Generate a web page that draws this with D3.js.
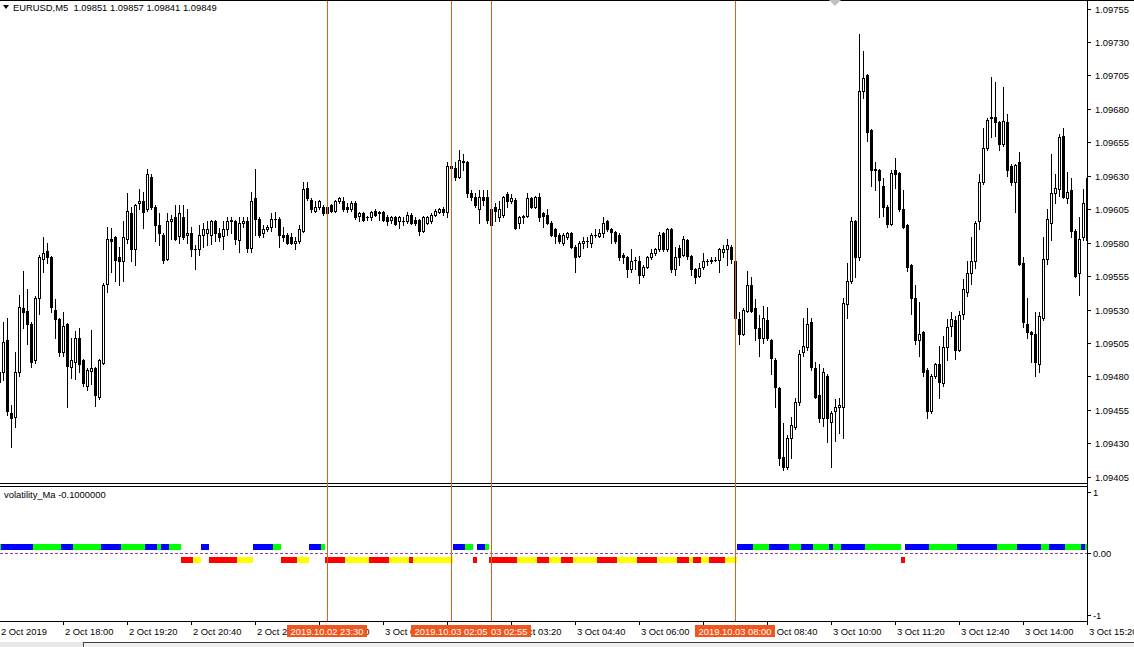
<!DOCTYPE html>
<html><head><meta charset="utf-8">
<script src="https://cdn.jsdelivr.net/npm/d3@7"></script>
<style>
html,body{margin:0;padding:0;background:#fff;overflow:hidden}
svg{display:block}
text{font-family:"Liberation Sans",Arial,sans-serif;font-size:9.4px;fill:#000}
</style></head>
<body><svg id="c" width="1134" height="647"></svg>
<script>
// ---------------- data ----------------
const symbolTitle = "EURUSD,M5";
const lastBarOHLC = ["1.09851", "1.09857", "1.09841", "1.09849"];
const indicatorTitle = "volatility_Ma -0.1000000";
// M5 bars, first bar = 2 Oct 2019 16:40
const opens = [1.09483,1.09483,1.09507,1.09453,1.09450,1.09483,1.09531,1.09529,1.09519,1.09492,
1.09539,1.09568,1.09574,1.09569,1.09530,1.09523,1.09498,1.09519,1.09487,1.09491,
1.09509,1.09492,1.09473,1.09484,1.09486,1.09465,1.09490,1.09549,1.09583,1.09584,
1.09569,1.09566,1.09583,1.09602,1.09575,1.09610,1.09611,1.09605,1.09629,1.09607,
1.09593,1.09586,1.09568,1.09596,1.09599,1.09585,1.09599,1.09586,1.09587,1.09575,
1.09575,1.09586,1.09587,1.09586,1.09596,1.09587,1.09585,1.09590,1.09596,1.09596,
1.09582,1.09595,1.09596,1.09576,1.09613,1.09598,1.09587,1.09590,1.09592,1.09598,
1.09598,1.09586,1.09586,1.09584,1.09580,1.09581,1.09589,1.09621,1.09612,1.09604,
1.09607,1.09607,1.09602,1.09608,1.09604,1.09611,1.09611,1.09607,1.09605,1.09610,
1.09600,1.09602,1.09599,1.09599,1.09604,1.09602,1.09603,1.09599,1.09597,1.09599,
1.09596,1.09596,1.09596,1.09601,1.09597,1.09597,1.09589,1.09595,1.09596,1.09601,
1.09603,1.09605,1.09603,1.09636,1.09636,1.09629,1.09641,1.09640,1.09617,1.09614,
1.09605,1.09614,1.09614,1.09593,1.09607,1.09599,1.09601,1.09616,1.09611,1.09612,
1.09595,1.09599,1.09600,1.09613,1.09607,1.09614,1.09602,1.09601,1.09595,1.09590,
1.09586,1.09580,1.09584,1.09587,1.09577,1.09570,1.09580,1.09581,1.09580,1.09586,
1.09585,1.09587,1.09596,1.09590,1.09588,1.09586,1.09571,1.09569,1.09560,1.09567,
1.09566,1.09556,1.09562,1.09569,1.09572,1.09575,1.09587,1.09575,1.09590,1.09560,
1.09576,1.09571,1.09582,1.09570,1.09560,1.09555,1.09562,1.09566,1.09566,1.09567,
1.09567,1.09573,1.09575,1.09577,1.09566,1.09523,1.09512,1.09529,1.09548,1.09531,
1.09516,1.09509,1.09522,1.09507,1.09492,1.09471,1.09420,1.09412,1.09434,1.09442,
1.09461,1.09498,1.09502,1.09521,1.09486,1.09466,1.09449,1.09480,1.09446,1.09454,
1.09457,1.09457,1.09534,1.09551,1.09596,1.09569,1.09693,1.09705,1.09664,1.09635,
1.09634,1.09622,1.09607,1.09594,1.09634,1.09632,1.09605,1.09593,1.09563,1.09539,
1.09507,1.09513,1.09485,1.09454,1.09480,1.09489,1.09475,1.09502,1.09518,1.09522,
1.09500,1.09527,1.09543,1.09557,1.09566,1.09596,1.09625,1.09651,1.09673,1.09674,
1.09670,1.09654,1.09670,1.09637,1.09625,1.09640,1.09565,1.09519,1.09513,1.09512,
1.09489,1.09524,1.09568,1.09595,1.09617,1.09620,1.09660,1.09613,1.09619,1.09589,
1.09557,1.09584,1.09628];
const highs = [1.09486,1.09521,1.09524,1.09459,1.09498,1.09541,1.09559,1.09545,1.09521,1.09540,
1.09571,1.09584,1.09580,1.09570,1.09538,1.09524,1.09528,1.09520,1.09509,1.09514,
1.09516,1.09493,1.09486,1.09515,1.09487,1.09493,1.09550,1.09592,1.09591,1.09585,
1.09577,1.09596,1.09617,1.09607,1.09609,1.09620,1.09618,1.09635,1.09631,1.09608,
1.09602,1.09587,1.09602,1.09601,1.09608,1.09608,1.09608,1.09605,1.09592,1.09578,
1.09593,1.09595,1.09596,1.09597,1.09597,1.09591,1.09596,1.09599,1.09599,1.09597,
1.09599,1.09599,1.09599,1.09618,1.09635,1.09599,1.09593,1.09593,1.09602,1.09603,
1.09599,1.09592,1.09587,1.09587,1.09584,1.09593,1.09625,1.09625,1.09613,1.09611,
1.09612,1.09608,1.09608,1.09609,1.09612,1.09614,1.09614,1.09610,1.09611,1.09611,
1.09603,1.09603,1.09600,1.09604,1.09605,1.09604,1.09604,1.09601,1.09600,1.09600,
1.09600,1.09599,1.09603,1.09602,1.09599,1.09598,1.09600,1.09600,1.09602,1.09605,
1.09606,1.09607,1.09640,1.09649,1.09640,1.09649,1.09646,1.09641,1.09619,1.09617,
1.09619,1.09619,1.09619,1.09607,1.09610,1.09611,1.09615,1.09618,1.09616,1.09613,
1.09600,1.09601,1.09617,1.09614,1.09615,1.09617,1.09603,1.09605,1.09596,1.09591,
1.09587,1.09587,1.09588,1.09588,1.09578,1.09581,1.09584,1.09584,1.09587,1.09590,
1.09590,1.09599,1.09597,1.09591,1.09589,1.09587,1.09572,1.09570,1.09575,1.09569,
1.09570,1.09563,1.09570,1.09575,1.09576,1.09588,1.09588,1.09591,1.09591,1.09577,
1.09578,1.09585,1.09583,1.09571,1.09561,1.09565,1.09572,1.09568,1.09569,1.09569,
1.09576,1.09578,1.09583,1.09578,1.09567,1.09528,1.09531,1.09559,1.09554,1.09538,
1.09526,1.09533,1.09532,1.09508,1.09494,1.09472,1.09445,1.09436,1.09450,1.09464,
1.09500,1.09524,1.09531,1.09524,1.09491,1.09489,1.09486,1.09482,1.09454,1.09463,
1.09464,1.09539,1.09565,1.09599,1.09597,1.09736,1.09723,1.09706,1.09665,1.09640,
1.09635,1.09628,1.09608,1.09634,1.09643,1.09633,1.09619,1.09594,1.09564,1.09548,
1.09536,1.09514,1.09486,1.09482,1.09490,1.09503,1.09510,1.09523,1.09528,1.09525,
1.09529,1.09553,1.09566,1.09584,1.09596,1.09631,1.09666,1.09673,1.09704,1.09700,
1.09671,1.09696,1.09676,1.09639,1.09639,1.09648,1.09569,1.09539,1.09514,1.09528,
1.09528,1.09584,1.09605,1.09646,1.09631,1.09661,1.09666,1.09633,1.09628,1.09590,
1.09599,1.09620,1.09630];
const lows = [1.09474,1.09477,1.09451,1.09427,1.09442,1.09480,1.09516,1.09504,1.09487,1.09490,
1.09527,1.09558,1.09565,1.09528,1.09509,1.09495,1.09495,1.09457,1.09479,1.09478,
1.09483,1.09473,1.09470,1.09474,1.09458,1.09463,1.09489,1.09543,1.09558,1.09551,
1.09548,1.09551,1.09580,1.09566,1.09563,1.09605,1.09591,1.09604,1.09605,1.09581,
1.09578,1.09565,1.09567,1.09583,1.09582,1.09580,1.09583,1.09580,1.09570,1.09560,
1.09571,1.09577,1.09578,1.09579,1.09581,1.09581,1.09575,1.09586,1.09587,1.09579,
1.09573,1.09592,1.09573,1.09573,1.09586,1.09584,1.09584,1.09589,1.09589,1.09592,
1.09577,1.09581,1.09579,1.09579,1.09575,1.09580,1.09588,1.09612,1.09603,1.09603,
1.09605,1.09601,1.09601,1.09603,1.09603,1.09610,1.09604,1.09603,1.09604,1.09598,
1.09596,1.09596,1.09597,1.09597,1.09600,1.09597,1.09596,1.09593,1.09595,1.09593,
1.09591,1.09593,1.09595,1.09594,1.09593,1.09586,1.09588,1.09594,1.09595,1.09600,
1.09602,1.09601,1.09599,1.09633,1.09627,1.09628,1.09634,1.09614,1.09612,1.09607,
1.09595,1.09608,1.09595,1.09590,1.09596,1.09596,1.09599,1.09607,1.09610,1.09590,
1.09591,1.09595,1.09599,1.09606,1.09606,1.09596,1.09592,1.09594,1.09585,1.09580,
1.09580,1.09578,1.09583,1.09576,1.09558,1.09569,1.09576,1.09577,1.09577,1.09584,
1.09584,1.09584,1.09589,1.09580,1.09580,1.09567,1.09565,1.09554,1.09558,1.09560,
1.09550,1.09554,1.09561,1.09568,1.09571,1.09574,1.09574,1.09574,1.09558,1.09556,
1.09563,1.09570,1.09568,1.09556,1.09550,1.09554,1.09560,1.09563,1.09565,1.09566,
1.09558,1.09569,1.09563,1.09565,1.09519,1.09504,1.09511,1.09528,1.09528,1.09507,
1.09495,1.09505,1.09507,1.09482,1.09457,1.09414,1.09410,1.09411,1.09419,1.09441,
1.09459,1.09495,1.09500,1.09485,1.09464,1.09446,1.09443,1.09431,1.09412,1.09432,
1.09438,1.09434,1.09524,1.09550,1.09554,1.09567,1.09688,1.09656,1.09622,1.09619,
1.09599,1.09600,1.09592,1.09593,1.09621,1.09604,1.09591,1.09559,1.09527,1.09504,
1.09495,1.09480,1.09449,1.09453,1.09479,1.09464,1.09473,1.09492,1.09510,1.09493,
1.09499,1.09523,1.09540,1.09549,1.09561,1.09590,1.09624,1.09649,1.09659,1.09660,
1.09649,1.09652,1.09630,1.09623,1.09603,1.09563,1.09517,1.09509,1.09491,1.09480,
1.09483,1.09522,1.09564,1.09582,1.09610,1.09615,1.09613,1.09610,1.09584,1.09554,
1.09541,1.09582,1.09578];
const closes = [1.09476,1.09506,1.09454,1.09449,1.09483,1.09532,1.09528,1.09519,1.09491,1.09539,
1.09569,1.09572,1.09569,1.09532,1.09523,1.09498,1.09518,1.09488,1.09492,1.09509,
1.09489,1.09475,1.09485,1.09486,1.09466,1.09492,1.09548,1.09583,1.09581,1.09567,
1.09566,1.09584,1.09604,1.09575,1.09608,1.09611,1.09603,1.09631,1.09607,1.09593,
1.09587,1.09567,1.09596,1.09598,1.09583,1.09602,1.09584,1.09587,1.09575,1.09575,
1.09586,1.09590,1.09590,1.09596,1.09587,1.09584,1.09590,1.09596,1.09597,1.09583,
1.09595,1.09596,1.09576,1.09611,1.09598,1.09586,1.09590,1.09592,1.09598,1.09598,
1.09586,1.09584,1.09580,1.09580,1.09581,1.09590,1.09620,1.09613,1.09605,1.09607,
1.09611,1.09602,1.09607,1.09604,1.09611,1.09613,1.09605,1.09605,1.09610,1.09599,
1.09602,1.09597,1.09599,1.09603,1.09601,1.09603,1.09597,1.09596,1.09599,1.09594,
1.09599,1.09596,1.09601,1.09595,1.09595,1.09589,1.09599,1.09599,1.09601,1.09604,
1.09605,1.09603,1.09637,1.09637,1.09629,1.09642,1.09640,1.09617,1.09614,1.09608,
1.09614,1.09612,1.09597,1.09605,1.09604,1.09605,1.09614,1.09611,1.09613,1.09591,
1.09599,1.09600,1.09613,1.09607,1.09614,1.09599,1.09600,1.09595,1.09586,1.09585,
1.09581,1.09586,1.09587,1.09577,1.09569,1.09580,1.09581,1.09581,1.09586,1.09586,
1.09587,1.09595,1.09590,1.09588,1.09581,1.09569,1.09569,1.09560,1.09566,1.09567,
1.09556,1.09562,1.09569,1.09572,1.09575,1.09586,1.09575,1.09590,1.09560,1.09569,
1.09569,1.09583,1.09570,1.09560,1.09554,1.09561,1.09566,1.09566,1.09567,1.09567,
1.09575,1.09575,1.09578,1.09568,1.09524,1.09512,1.09530,1.09548,1.09529,1.09516,
1.09509,1.09524,1.09509,1.09494,1.09472,1.09419,1.09412,1.09434,1.09444,1.09461,
1.09497,1.09503,1.09519,1.09487,1.09465,1.09449,1.09483,1.09449,1.09453,1.09457,
1.09459,1.09535,1.09551,1.09596,1.09569,1.09693,1.09703,1.09663,1.09634,1.09634,
1.09627,1.09607,1.09594,1.09632,1.09631,1.09605,1.09592,1.09562,1.09539,1.09507,
1.09512,1.09483,1.09454,1.09480,1.09489,1.09476,1.09502,1.09517,1.09523,1.09500,
1.09526,1.09545,1.09557,1.09566,1.09595,1.09625,1.09651,1.09672,1.09674,1.09670,
1.09654,1.09671,1.09634,1.09625,1.09638,1.09564,1.09521,1.09513,1.09512,1.09491,
1.09525,1.09568,1.09598,1.09617,1.09621,1.09659,1.09614,1.09618,1.09589,1.09555,
1.09583,1.09610,1.09582];

const priceTicks = [1.09405,1.09430,1.09455,1.09480,1.09505,1.09530,1.09555,1.09580,
                    1.09605,1.09630,1.09655,1.09680,1.09705,1.09730,1.09755];
const timeTickBars = [0,16,32,48,64,80,96,112,128,144,160,176,192,208,224,240,256,272];
const timeTickLabels = ["2 Oct 2019","2 Oct 18:00","2 Oct 19:20","2 Oct 20:40","2 Oct 22:00",
  "2 Oct 23:20","3 Oct 00:40","3 Oct 02:00","3 Oct 03:20","3 Oct 04:40","3 Oct 06:00",
  "3 Oct 07:20","3 Oct 08:40","3 Oct 10:00","3 Oct 11:20","3 Oct 12:40","3 Oct 14:00","3 Oct 15:20"];
const markerBars = [82, 123, 113, 184];
const markerLabels = ["2019.10.02 23:30","2019.10.03 02:55","2019.10.03 02:05","2019.10.03 08:00"];
const indTicks = [1, 0, -1];
const indTickLabels = ["1", "0.00", "-1"];
// volatility_Ma runs: [firstBar, lastBar, value, state]
const volRuns = [
[0,0,0.1,"up2"],[1,8,0.1,"up1"],[9,15,0.1,"up2"],[16,18,0.1,"up1"],[19,25,0.1,"up2"],
[26,30,0.1,"up1"],[31,36,0.1,"up2"],[37,39,0.1,"up1"],[40,40,0.1,"up2"],[41,42,0.1,"up1"],
[43,45,0.1,"up2"],[46,48,-0.1,"dn1"],[49,50,-0.1,"dn2"],[51,52,0.1,"up1"],[53,59,-0.1,"dn1"],
[60,63,-0.1,"dn2"],[64,68,0.1,"up1"],[69,70,0.1,"up2"],[71,74,-0.1,"dn1"],[75,77,-0.1,"dn2"],
[78,80,0.1,"up1"],[81,81,0.1,"up2"],[82,86,-0.1,"dn1"],[87,92,-0.1,"dn2"],[93,97,-0.1,"dn1"],
[98,102,-0.1,"dn2"],[103,103,-0.1,"dn1"],[104,113,-0.1,"dn2"],[114,116,0.1,"up1"],[117,118,0.1,"up2"],
[119,119,-0.1,"dn1"],[120,121,0.1,"up1"],[122,122,0.1,"up2"],[123,129,-0.1,"dn1"],[130,134,-0.1,"dn2"],
[135,137,-0.1,"dn1"],[138,140,-0.1,"dn2"],[141,143,-0.1,"dn1"],[144,149,-0.1,"dn2"],[150,154,-0.1,"dn1"],
[155,159,-0.1,"dn2"],[160,164,-0.1,"dn1"],[165,169,-0.1,"dn2"],[170,172,-0.1,"dn1"],[173,173,-0.1,"dn2"],
[174,175,-0.1,"dn1"],[176,177,-0.1,"dn2"],[178,181,-0.1,"dn1"],[182,184,-0.1,"dn2"],[185,188,0.1,"up1"],
[189,192,0.1,"up2"],[193,197,0.1,"up1"],[198,200,0.1,"up2"],[201,203,0.1,"up1"],[204,207,0.1,"up2"],
[208,208,0.1,"up1"],[209,210,0.1,"up2"],[211,216,0.1,"up1"],[217,225,0.1,"up2"],[226,226,-0.1,"dn1"],
[227,232,0.1,"up1"],[233,239,0.1,"up2"],[240,249,0.1,"up1"],[250,254,0.1,"up2"],[255,260,0.1,"up1"],
[261,262,0.1,"up2"],[263,266,0.1,"up1"],[267,270,0.1,"up2"],[271,271,0.1,"up1"],[272,272,0.1,"up2"]
];

// ---------------- drawing ----------------
const W = 1134, H = 647;
const plotRight = 1087, mainBottom = 483, indTop = 486, indBottom = 621;
const stateColor = {up1:"#0000ff", up2:"#00ff00", dn1:"#ff0000", dn2:"#ffff00"};
const markerLine = "#e65f14", markerBox = "#f0561e";

const svg = d3.select("#c");
svg.append("rect").attr("width", W).attr("height", H).attr("fill", "#fff");

const x = d3.scaleLinear().domain([0, 272]).range([-1, 1087]);
const y = d3.scaleLinear().domain([1.09405, 1.09755]).range([476.8, 8.5]);
const yi = d3.scaleLinear().domain([-1, 1]).range([614.5, 492]);

const defs = svg.append("defs");
defs.append("clipPath").attr("id", "cpMain").append("rect")
  .attr("x", 0).attr("y", 1).attr("width", plotRight).attr("height", mainBottom - 1);
defs.append("clipPath").attr("id", "cpInd").append("rect")
  .attr("x", 0).attr("y", indTop + 1).attr("width", plotRight).attr("height", indBottom - indTop - 1);

// candles
const bars = d3.range(opens.length).map(i => ({i, o: opens[i], h: highs[i], l: lows[i], c: closes[i]}));
const gC = svg.append("g").attr("clip-path", "url(#cpMain)");
bars.forEach(b => {
  const cx = Math.round(x(b.i));
  const yh = Math.round(y(Math.max(b.h, b.o, b.c)));
  const yl = Math.round(y(Math.min(b.l, b.o, b.c)));
  gC.append("rect").attr("x", cx).attr("y", yh).attr("width", 1).attr("height", yl - yh + 1).attr("fill", "#000");
  const top = Math.round(y(Math.max(b.o, b.c)));
  const bot = Math.round(y(Math.min(b.o, b.c)));
  if (b.c > b.o && bot - top >= 2) {
    gC.append("rect").attr("x", cx - 0.5).attr("y", top + 0.5).attr("width", 2).attr("height", bot - top)
      .attr("fill", "#fff").attr("stroke", "#000").attr("stroke-width", 1);
  } else {
    gC.append("rect").attr("x", cx - 1).attr("y", top).attr("width", 3).attr("height", Math.max(1, bot - top + 1))
      .attr("fill", "#000");
  }
});

// indicator
const gI = svg.append("g").attr("clip-path", "url(#cpInd)");
gI.append("line").attr("x1", 0).attr("x2", plotRight).attr("y1", Math.round(yi(0)) + 0.5).attr("y2", Math.round(yi(0)) + 0.5)
  .attr("stroke", "#8a3fb0").attr("stroke-width", 1).attr("stroke-dasharray", "3,2");
volRuns.forEach(r => {
  const x0 = Math.round(x(r[0])) - 2, x1 = Math.round(x(r[1])) + 2;
  const yc = yi(r[2]) + (r[2] < 0 ? 1 : 0);
  gI.append("rect").attr("x", x0).attr("y", Math.round(yc - 3)).attr("width", x1 - x0).attr("height", 6)
    .attr("fill", stateColor[r[3]]);
});

// frames
const frame = svg.append("g").attr("stroke", "#000").attr("stroke-width", 1).attr("fill", "none");
frame.append("line").attr("x1", 0).attr("x2", W).attr("y1", 0.5).attr("y2", 0.5);
frame.append("line").attr("x1", 0).attr("x2", plotRight + 1).attr("y1", mainBottom + 0.5).attr("y2", mainBottom + 0.5);
frame.append("line").attr("x1", 0).attr("x2", plotRight + 1).attr("y1", indTop + 0.5).attr("y2", indTop + 0.5);
frame.append("line").attr("x1", 0).attr("x2", plotRight + 1).attr("y1", indBottom + 0.5).attr("y2", indBottom + 0.5);
frame.append("line").attr("x1", plotRight + 0.5).attr("x2", plotRight + 0.5).attr("y1", 0).attr("y2", indBottom + 4);

// price axis
const gP = svg.append("g");
priceTicks.forEach(p => {
  const yy = Math.round(y(p));
  gP.append("line").attr("x1", plotRight + 1).attr("x2", plotRight + 4).attr("y1", yy + 0.5).attr("y2", yy + 0.5).attr("stroke", "#000");
  gP.append("text").attr("x", 1095).attr("y", yy + 3.5).text(p.toFixed(5));
});
indTicks.forEach((v, k) => {
  const yy = Math.round(yi(v));
  gP.append("line").attr("x1", plotRight + 1).attr("x2", plotRight + 4).attr("y1", yy + 0.5).attr("y2", yy + 0.5).attr("stroke", "#000");
  gP.append("text").attr("x", 1093).attr("y", yy + 3.5).text(indTickLabels[k]);
});

// time axis
const gT = svg.append("g");
timeTickBars.forEach((b, k) => {
  const xx = Math.round(x(b));
  gT.append("line").attr("x1", xx + 0.5).attr("x2", xx + 0.5).attr("y1", indBottom).attr("y2", indBottom + 4).attr("stroke", "#000");
  gT.append("text").attr("x", xx + 2).attr("y", 634.5).text(timeTickLabels[k]);
});

// vertical markers
markerBars.forEach((b, k) => {
  const xx = Math.round(x(b));
  svg.append("rect").attr("x", xx).attr("y", 1).attr("width", 1).attr("height", indBottom - 1)
    .attr("fill", markerLine);
});
markerBars.forEach((b, k) => {
  const xx = Math.round(x(b));
  svg.append("rect").attr("x", xx - 40).attr("y", 625).attr("width", 80).attr("height", 12).attr("fill", markerBox);
  svg.append("text").attr("x", xx).attr("y", 634.5).attr("text-anchor", "middle").style("fill", "#fff").text(markerLabels[k]);
});

// header
svg.append("path").attr("d", "M3,5 L9,5 L6,9 Z").attr("fill", "#000");
svg.append("text").attr("x", 13).attr("y", 11).attr("xml:space", "preserve")
  .text(symbolTitle + "  " + lastBarOHLC.join(" "));
svg.append("text").attr("x", 4).attr("y", 498).text(indicatorTitle);

// chart shift marker
svg.append("path").attr("d", "M829,0 L841,0 L835,6 Z").attr("fill", "#c0c0c0");

// bottom tab strip
svg.append("rect").attr("x", 0).attr("y", 642).attr("width", W).attr("height", 5).attr("fill", "#f0f0f0");
svg.append("line").attr("x1", 83).attr("x2", W).attr("y1", 642.5).attr("y2", 642.5).attr("stroke", "#404040");
svg.append("line").attr("x1", 83.5).attr("x2", 83.5).attr("y1", 642).attr("y2", 647).attr("stroke", "#404040");
svg.append("rect").attr("x", 0).attr("y", 642).attr("width", 83).attr("height", 5).attr("fill", "#e8e8e8");
</script></body></html>
